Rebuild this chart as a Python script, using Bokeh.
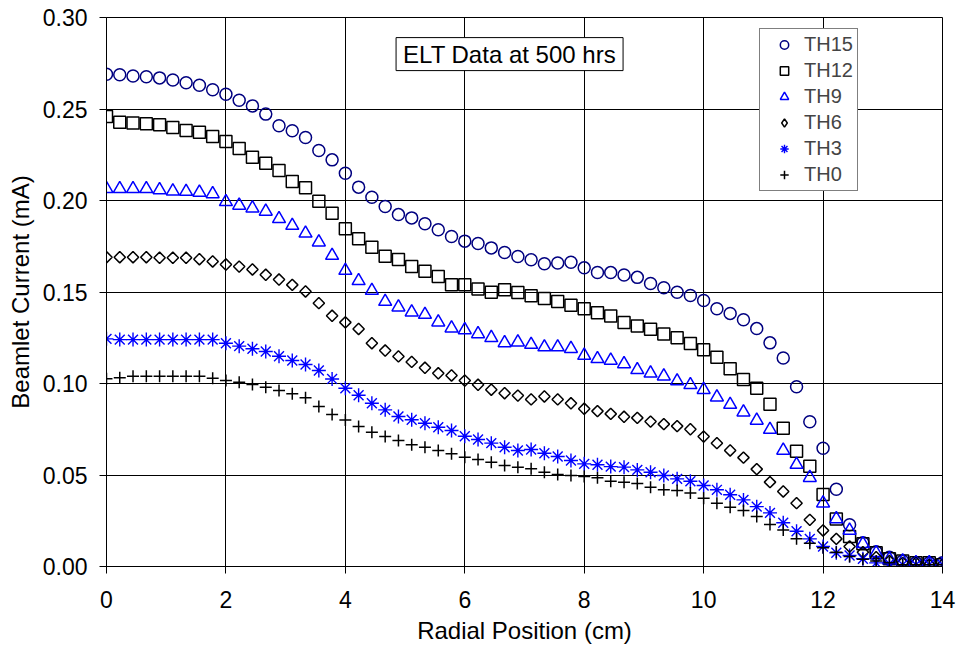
import math
from bokeh.plotting import figure
from bokeh.models import (Legend, LegendItem, Label, Range1d, FixedTicker,
                          NumeralTickFormatter, ColumnDataSource)
from bokeh.embed import file_html
from bokeh.resources import INLINE

# ---------------- data ----------------
radial_cm = [
    0.000, 0.222, 0.444, 0.667, 0.889, 1.111, 1.333, 1.556, 1.778,
    2.000, 2.222, 2.444, 2.667, 2.889, 3.111, 3.333, 3.556, 3.778,
    4.000, 4.222, 4.444, 4.667, 4.889, 5.111, 5.333, 5.556, 5.778,
    6.000, 6.222, 6.444, 6.667, 6.889, 7.111, 7.333, 7.556, 7.778,
    8.000, 8.222, 8.444, 8.667, 8.889, 9.111, 9.333, 9.556, 9.778,
    10.000, 10.222, 10.444, 10.667, 10.889, 11.111, 11.333, 11.556, 11.778,
    12.000, 12.222, 12.444, 12.667, 12.889, 13.111, 13.333, 13.556, 13.778,
    14.000,
]

th15 = [
    0.2690, 0.2687, 0.2680, 0.2676, 0.2670, 0.2658, 0.2643, 0.2630, 0.2605, 0.2581,
    0.2548, 0.2517, 0.2472, 0.2408, 0.2381, 0.2344, 0.2273, 0.2222, 0.2149, 0.2073,
    0.2018, 0.1967, 0.1923, 0.1905, 0.1873, 0.1840, 0.1803, 0.1778, 0.1765, 0.1741,
    0.1716, 0.1694, 0.1676, 0.1654, 0.1658, 0.1663, 0.1632, 0.1607, 0.1606, 0.1593,
    0.1580, 0.1546, 0.1523, 0.1499, 0.1481, 0.1454, 0.1408, 0.1383, 0.1348, 0.1300,
    0.1222, 0.1139, 0.0982, 0.0791, 0.0646, 0.0422, 0.0228, 0.0130, 0.0080, 0.0050,
    0.0030, 0.0020, 0.0020, 0.0020,
]

th12 = [
    0.2459, 0.2428, 0.2423, 0.2419, 0.2414, 0.2399, 0.2383, 0.2373, 0.2350, 0.2322,
    0.2284, 0.2237, 0.2204, 0.2164, 0.2104, 0.2069, 0.1996, 0.1931, 0.1845, 0.1791,
    0.1745, 0.1696, 0.1678, 0.1639, 0.1614, 0.1585, 0.1539, 0.1539, 0.1517, 0.1499,
    0.1512, 0.1497, 0.1479, 0.1464, 0.1448, 0.1428, 0.1408, 0.1386, 0.1369, 0.1334,
    0.1314, 0.1297, 0.1271, 0.1250, 0.1219, 0.1184, 0.1144, 0.1080, 0.1022, 0.0974,
    0.0887, 0.0756, 0.0630, 0.0548, 0.0393, 0.0260, 0.0164, 0.0124, 0.0075, 0.0042,
    0.0030, 0.0020, 0.0020, 0.0010,
]

th9 = [
    0.2064, 0.2064, 0.2064, 0.2064, 0.2058, 0.2051, 0.2049, 0.2044, 0.2036, 0.1993,
    0.1973, 0.1958, 0.1940, 0.1900, 0.1863, 0.1821, 0.1772, 0.1699, 0.1617, 0.1561,
    0.1508, 0.1448, 0.1417, 0.1390, 0.1377, 0.1335, 0.1302, 0.1293, 0.1271, 0.1250,
    0.1222, 0.1226, 0.1213, 0.1199, 0.1199, 0.1190, 0.1153, 0.1135, 0.1126, 0.1107,
    0.1075, 0.1056, 0.1040, 0.1013, 0.0993, 0.0966, 0.0925, 0.0885, 0.0843, 0.0798,
    0.0748, 0.0634, 0.0557, 0.0485, 0.0346, 0.0260, 0.0197, 0.0124, 0.0075, 0.0040,
    0.0030, 0.0020, 0.0020, 0.0010,
]

th6 = [
    0.1690, 0.1690, 0.1690, 0.1690, 0.1687, 0.1687, 0.1687, 0.1679, 0.1667, 0.1650,
    0.1639, 0.1623, 0.1594, 0.1568, 0.1539, 0.1503, 0.1439, 0.1370, 0.1334, 0.1298,
    0.1220, 0.1180, 0.1148, 0.1118, 0.1086, 0.1056, 0.1044, 0.1016, 0.0993, 0.0966,
    0.0947, 0.0934, 0.0913, 0.0929, 0.0913, 0.0892, 0.0862, 0.0849, 0.0834, 0.0818,
    0.0812, 0.0792, 0.0778, 0.0767, 0.0750, 0.0710, 0.0674, 0.0634, 0.0595, 0.0532,
    0.0461, 0.0410, 0.0346, 0.0255, 0.0197, 0.0151, 0.0109, 0.0078, 0.0051, 0.0030,
    0.0020, 0.0020, 0.0010, 0.0010,
]

th3 = [
    0.1244, 0.1240, 0.1240, 0.1240, 0.1240, 0.1240, 0.1240, 0.1240, 0.1240, 0.1220,
    0.1204, 0.1190, 0.1175, 0.1149, 0.1126, 0.1104, 0.1071, 0.1025, 0.0974, 0.0936,
    0.0892, 0.0856, 0.0820, 0.0802, 0.0783, 0.0761, 0.0743, 0.0712, 0.0694, 0.0674,
    0.0652, 0.0634, 0.0639, 0.0619, 0.0601, 0.0579, 0.0561, 0.0556, 0.0546, 0.0543,
    0.0528, 0.0515, 0.0497, 0.0479, 0.0466, 0.0443, 0.0419, 0.0392, 0.0364, 0.0327,
    0.0293, 0.0239, 0.0193, 0.0151, 0.0109, 0.0075, 0.0060, 0.0042, 0.0020, 0.0015,
    0.0010, 0.0010, 0.0010, 0.0010,
]

th0 = [
    0.1026, 0.1031, 0.1040, 0.1040, 0.1040, 0.1040, 0.1040, 0.1040, 0.1029, 0.1016,
    0.1007, 0.0995, 0.0980, 0.0962, 0.0944, 0.0922, 0.0874, 0.0831, 0.0800, 0.0765,
    0.0734, 0.0710, 0.0689, 0.0665, 0.0652, 0.0634, 0.0616, 0.0597, 0.0585, 0.0570,
    0.0552, 0.0543, 0.0534, 0.0515, 0.0503, 0.0497, 0.0492, 0.0485, 0.0466, 0.0461,
    0.0454, 0.0433, 0.0419, 0.0415, 0.0401, 0.0373, 0.0346, 0.0324, 0.0306, 0.0273,
    0.0230, 0.0200, 0.0151, 0.0127, 0.0102, 0.0078, 0.0055, 0.0040, 0.0030, 0.0020,
    0.0010, 0.0010, 0.0010, 0.0010,
]

series_names = ["TH15", "TH12", "TH9", "TH6", "TH3", "TH0"]
x_ticks = [0, 2, 4, 6, 8, 10, 12, 14]
y_ticks = [0.00, 0.05, 0.10, 0.15, 0.20, 0.25, 0.30]
title_text = "ELT Data at 500 hrs"
x_title = "Radial Position (cm)"
y_title = "Beamlet Current (mA)"

# ---------------- figure ----------------
FONT = "Liberation Sans"

src = ColumnDataSource(dict(x=radial_cm, th15=th15, th12=th12, th9=th9,
                            th6=th6, th3=th3, th0=th0))

p = figure(width=958, height=654, output_backend="svg", toolbar_location=None,
           x_range=Range1d(0, 14), y_range=Range1d(0, 0.30),
           min_border_left=106, min_border_right=16, min_border_top=17,
           min_border_bottom=88, background_fill_color="white",
           border_fill_color="white")

p.xaxis.ticker = FixedTicker(ticks=x_ticks, minor_ticks=[])
p.yaxis.ticker = FixedTicker(ticks=y_ticks, minor_ticks=[])
p.xaxis.formatter = NumeralTickFormatter(format="0")
p.yaxis.formatter = NumeralTickFormatter(format="0.00")

for ax in (p.xaxis[0], p.yaxis[0]):
    ax.major_tick_out = 7
    ax.major_tick_in = 0
    ax.minor_tick_out = 0
    ax.minor_tick_in = 0
    ax.axis_line_color = "black"
    ax.major_tick_line_color = "black"
    ax.major_label_text_font = FONT
    ax.major_label_text_font_size = "23px"
    ax.major_label_text_color = "black"
    ax.axis_label_text_font = FONT
    ax.axis_label_text_font_size = "24px"
    ax.axis_label_text_font_style = "normal"
    ax.axis_label_text_color = "black"

p.xaxis.axis_label = x_title
p.yaxis.axis_label = y_title
p.xaxis.major_label_standoff = 17
p.yaxis.major_label_standoff = 12
p.xaxis.axis_label_standoff = 6
p.yaxis.axis_label_standoff = 6

p.xgrid.grid_line_color = "black"
p.ygrid.grid_line_color = "black"
p.xgrid.grid_line_width = 1
p.ygrid.grid_line_width = 1
p.outline_line_color = "black"
p.outline_line_width = 1

r15 = p.scatter(x="x", y="th15", source=src, marker="circle", size=12,
                fill_color=None, line_color="#000080", line_width=1.5)
r12 = p.scatter(x="x", y="th12", source=src, marker="square", size=12,
                fill_color=None, line_color="black", line_width=1.5)
r9 = p.scatter(x="x", y="th9", source=src, marker="triangle", size=13,
               fill_color=None, line_color="#0000FF", line_width=1.5)
r6 = p.scatter(x="x", y="th6", source=src, marker="square", size=8,
               angle=math.pi / 4, fill_color=None, line_color="black",
               line_width=1.5)
# same series, only used to draw a diamond symbol in the legend
r6_key = p.scatter(x="x", y="th6", source=src, marker="diamond", size=12,
                   fill_color=None, line_color="black", line_width=1.5,
                   visible=False)
r3 = p.scatter(x="x", y="th3", source=src, marker="asterisk", size=14,
               line_color="#0000FF", line_width=1.4)
r0 = p.scatter(x="x", y="th0", source=src, marker="cross", size=12,
               line_color="black", line_width=1.5)

legend = Legend(
    items=[LegendItem(label=n, renderers=[r]) for n, r in
           zip(series_names, [r15, r12, r9, r6_key, r3, r0])],
    location=(653, 375), margin=0, padding=4, spacing=3,
    glyph_width=40, glyph_height=21, label_height=21, label_standoff=0,
    label_text_font=FONT, label_text_font_size="20px",
    border_line_color="black", border_line_width=1,
    background_fill_color="white", background_fill_alpha=1.0,
)
p.add_layout(legend)

shadow = Label(x=6.75, y=0.280, text=title_text, text_align="center",
               text_baseline="middle", x_offset=4, y_offset=-4,
               text_font=FONT, text_font_size="24px", text_alpha=0.0,
               background_fill_color="#7f7f7f", background_fill_alpha=1.0,
               padding=(7, 3))
note = Label(x=6.75, y=0.280, text=title_text, text_align="center",
             text_baseline="middle", text_font=FONT, text_font_size="24px",
             text_color="black", background_fill_color="white",
             background_fill_alpha=1.0, border_line_color="black",
             border_line_width=1, padding=(7, 3))
p.add_layout(shadow)
p.add_layout(note)

open("out.html", "w").write(file_html(p, INLINE))
